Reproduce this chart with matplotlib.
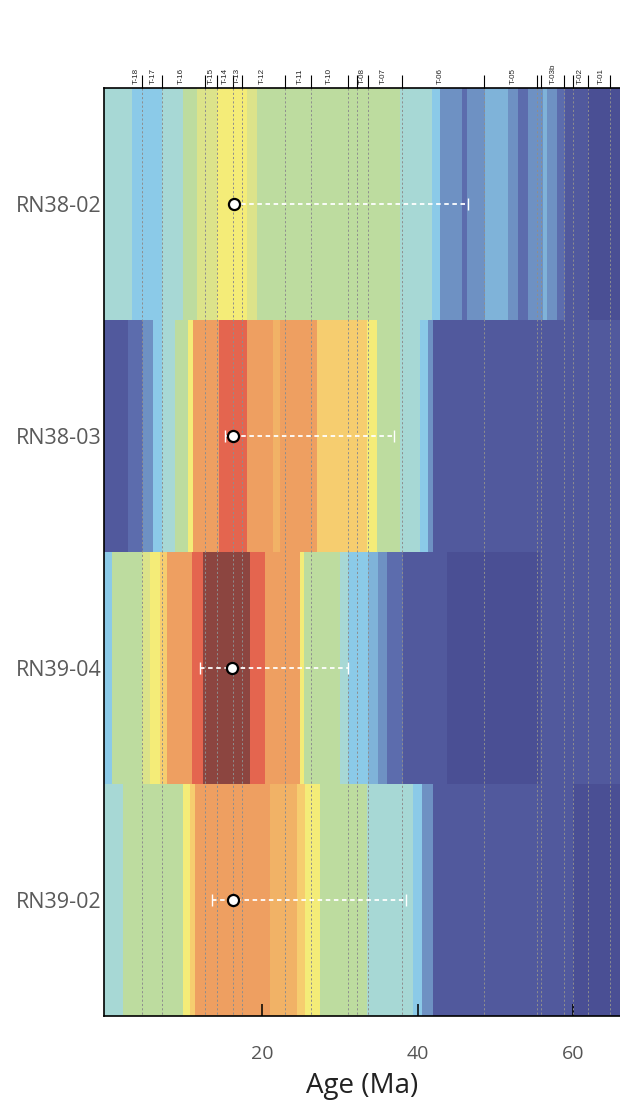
import numpy as np
import matplotlib
matplotlib.use("Agg")
import matplotlib.pyplot as plt
from matplotlib.colors import ListedColormap, BoundaryNorm

# ---------------- data ----------------
samples = ["RN38-02", "RN38-03", "RN39-04", "RN39-02"]

# colour levels (low density -> high density)
palette = ['#4a4f94', '#51599d', '#5c6cad', '#6e91c3', '#7fb3d9', '#8bcae8',
           '#a7d8d5', '#bddc9f', '#dce38a', '#f4ec78', '#f6cd6f', '#f1b266',
           '#ee9f61', '#e4654f', '#8c4540']

row1_edges = [-0.35, 3.22, 7.08, 9.87, 11.58, 14.16, 18.02, 19.30, 37.74, 41.81, 42.88,
              45.67, 46.31, 48.67, 51.67, 52.96, 54.24, 56.17, 56.60, 57.89, 58.96,
              61.96, 66.1]
row1_levels = [6, 5, 6, 7, 8, 9, 8, 7, 6, 5, 3, 2, 3, 4, 3, 2, 3, 4, 3, 2, 1, 0]

row2_edges = [-0.35, 2.80, 4.72, 6.01, 7.08, 8.80, 10.51, 11.07, 14.40, 18.02, 21.45,
              22.30, 27.02, 33.45, 34.73, 37.74, 40.31, 41.38, 42.02, 66.1]
row2_levels = [1, 2, 3, 5, 6, 7, 9, 12, 13, 12, 11, 12, 10, 9, 7, 6, 5, 3, 1]

row3_edges = [-0.35, 0.65, 4.51, 5.58, 6.87, 7.73, 10.94, 12.44, 18.44, 20.37, 24.87,
              25.39, 30.02, 31.09, 33.66, 34.95, 36.02, 38.17, 43.74, 55.74, 66.1]
row3_levels = [5, 7, 8, 9, 10, 12, 13, 14, 13, 12, 9, 7, 6, 5, 4, 3, 2, 1, 0, 1]

row4_edges = [-0.35, 2.15, 9.87, 10.73, 11.37, 21.02, 24.45, 25.52, 27.45, 33.45, 39.45,
              40.52, 42.02, 60.03, 66.1]
row4_levels = [6, 7, 9, 10, 12, 11, 10, 9, 7, 6, 5, 3, 1, 0]

# time-interval boundaries (Ma) and interval labels
boundaries = [4.59, 7.16, 12.66, 14.16, 16.22, 17.38, 22.95, 26.29, 31.09, 32.17,
              33.58, 37.96, 48.58, 55.39, 55.83, 58.87, 60.03, 61.96, 64.75]
interval_labels = ["T-18", "T-17", "T-16", "T-15", "T-14", "T-13", "T-12", "T-11",
                   "T-10", "T-08", "T-07", "T-06", "T-05", "T-03b", "T-02", "T-01"]
interval_label_pos = [3.78, 5.97, 9.57, 13.43, 15.22, 16.77, 19.99, 24.88, 28.6,
                      32.86, 35.55, 42.9, 52.27, 57.41, 60.88, 63.68]

# modelled ages with ranges
ages = [16.39, 16.22, 16.17, 16.30]
age_low = [16.2, 15.23, 12.01, 13.6]
age_high = [46.44, 36.96, 31.01, 38.51]

x_ticks = [20, 40, 60]

# ---------------- figure ----------------
fig = plt.figure(figsize=(6.2, 11.07), dpi=100)
ax = fig.add_axes([104 / 620, (1107 - 1016) / 1107, 516 / 620, (1016 - 88) / 1107])

cmap = ListedColormap(palette)
norm = BoundaryNorm(np.arange(-0.5, len(palette)), len(palette))

rows = [(row1_edges, row1_levels), (row2_edges, row2_levels),
        (row3_edges, row3_levels), (row4_edges, row4_levels)]
for i, (edges, levels) in enumerate(rows):
    ax.pcolormesh(edges, [i, i + 1], [levels], cmap=cmap, norm=norm,
                  shading='flat', zorder=1, antialiased=False, edgecolors='none')

ax.vlines(boundaries, 0, 4, colors='#8e8e8e', linestyles=(0, (2.2, 2.2)),
          linewidth=0.7, zorder=2)

ypos = np.arange(len(samples)) + 0.5
err = [np.array(ages) - np.array(age_low), np.array(age_high) - np.array(ages)]
eb = ax.errorbar(ages, ypos, xerr=err, fmt='none', ecolor='white', elinewidth=1.3,
                 capsize=4, capthick=1.0, zorder=3)
for lc in eb[2]:
    lc.set_linestyle((0, (2.5, 2)))
ax.plot(ages, ypos, 'o', markersize=8, markerfacecolor='white',
        markeredgecolor='black', markeredgewidth=1.6, zorder=4, linestyle='none')

ax.set_xlim(-0.33, 66.03)
ax.set_ylim(4, 0)

ax.set_yticks(ypos)
ax.set_yticklabels(samples, fontsize=15.5, color='#5a5a5a', family='Open Sans')
ax.tick_params(axis='y', length=0, pad=2)

ax.set_xticks(x_ticks)
ax.set_xticklabels([str(t) for t in x_ticks], fontsize=14, color='#555555',
                   family='Open Sans')
ax.tick_params(axis='x', direction='in', length=8.6, width=1.1, pad=21, top=False)
ax.set_xlabel("Age (Ma)", fontsize=20, family='Open Sans', color='#222222',
              labelpad=6)

for side in ['left', 'top', 'bottom']:
    ax.spines[side].set_linewidth(1.2)
    ax.spines[side].set_color('black')
ax.spines['right'].set_visible(False)

# top interval axis
ax2 = ax.twiny()
ax2.set_xlim(ax.get_xlim())
ax2.set_xticks(boundaries)
ax2.set_xticklabels([])
ax2.set_xticks(interval_label_pos, minor=True)
ax2.set_xticklabels(interval_labels, minor=True, rotation=90, fontsize=5.8,
                    family='Liberation Sans', color='#222222')
ax2.tick_params(axis='x', which='major', direction='out', length=9.4, width=0.8)
ax2.tick_params(axis='x', which='minor', length=0, pad=3.2)
for s in ax2.spines.values():
    s.set_visible(False)

fig.savefig("out.png", dpi=100)
